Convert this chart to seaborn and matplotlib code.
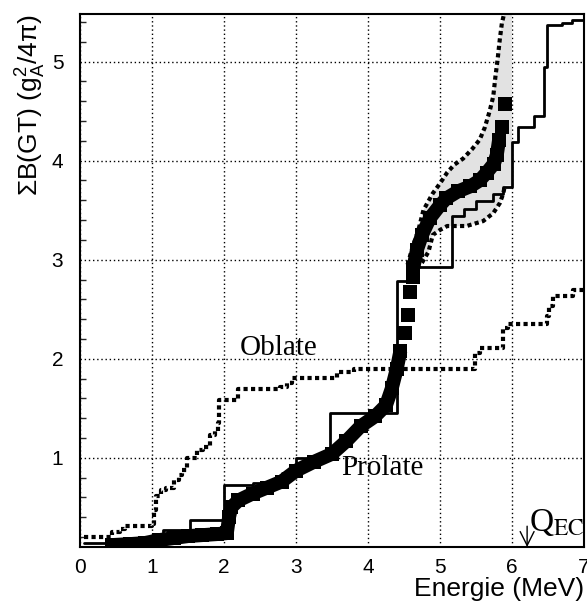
import numpy as np
import pandas as pd
import matplotlib
matplotlib.use("Agg")
import matplotlib.pyplot as plt
from matplotlib.ticker import MultipleLocator
import seaborn as sns

sns.set_theme(style="white")
plt.rcParams['font.family'] = ['Liberation Sans', 'DejaVu Sans']
plt.rcParams['mathtext.fontset'] = 'custom'
plt.rcParams['mathtext.rm'] = 'Liberation Sans'
plt.rcParams['mathtext.it'] = 'Liberation Sans'
plt.rcParams['hatch.color'] = '#7a7a7a'
plt.rcParams['hatch.linewidth'] = 1.0

# ---------------- data ----------------
# experimental cumulative B(GT) (solid staircase)
exp_x = [0.05, 0.45, 0.9, 1.15, 1.53, 2.0, 2.4, 2.8, 3.0, 3.47, 4.4, 4.55, 5.17,
         5.33, 5.5, 5.74, 5.88, 6.0, 6.08, 6.3, 6.44, 6.48, 6.7, 6.84, 7.0]
exp_y = [0.14, 0.15, 0.2, 0.27, 0.37, 0.73, 0.75, 0.85, 1.0, 1.45, 2.78, 2.93, 3.44,
         3.51, 3.59, 3.66, 3.73, 4.19, 4.34, 4.45, 4.94, 5.37, 5.39, 5.42, 5.42]

# oblate calculation (dotted staircase)
obl_x = [0.05, 0.45, 0.55, 0.62, 1.0, 1.03, 1.06, 1.13, 1.2, 1.3, 1.37, 1.41, 1.48,
         1.62, 1.71, 1.8, 1.88, 1.92, 1.93, 2.2, 2.78, 2.87, 2.95, 3.57, 3.8, 5.49,
         5.56, 5.88, 5.95, 6.48, 6.52, 6.57, 6.85, 7.0]
obl_y = [0.2, 0.25, 0.28, 0.31, 0.33, 0.47, 0.61, 0.68, 0.7, 0.78, 0.83, 0.88, 1.0,
         1.08, 1.11, 1.23, 1.27, 1.35, 1.58, 1.69, 1.72, 1.76, 1.81, 1.87, 1.9, 2.06,
         2.11, 2.31, 2.35, 2.43, 2.53, 2.63, 2.69, 2.72]

# prolate calculation (squares) - dense parts
pro1_x = [0.45, 0.7, 0.9, 1.1, 1.3, 1.5, 1.7, 1.9, 2.04, 2.07, 2.1, 2.2, 2.4, 2.6,
          2.8, 3.0, 3.25, 3.5, 3.7, 3.9, 4.1, 4.25, 4.33, 4.4, 4.45]
pro1_y = [0.12, 0.13, 0.14, 0.17, 0.19, 0.21, 0.22, 0.23, 0.24, 0.4, 0.5, 0.57, 0.64,
          0.7, 0.76, 0.87, 0.96, 1.04, 1.17, 1.32, 1.42, 1.53, 1.7, 1.9, 2.08]
pro2_x = [4.63, 4.68, 4.75, 4.86, 5.0, 5.09, 5.25, 5.42, 5.55, 5.65, 5.75, 5.79, 5.82]
pro2_y = [2.92, 3.1, 3.25, 3.42, 3.55, 3.62, 3.69, 3.74, 3.8, 3.88, 3.97, 4.06, 4.21]
# prolate - isolated squares
pro_iso_x = [4.52, 4.55, 4.58, 4.62, 5.86, 5.9]
pro_iso_y = [2.26, 2.44, 2.67, 2.83, 4.34, 4.57]

# uncertainty band limits (dotted)
up_x = [4.55, 4.62, 4.7, 4.77, 4.9, 5.0, 5.1, 5.2, 5.32, 5.45, 5.55, 5.62, 5.69,
        5.74, 5.77, 5.8, 5.83, 5.86, 5.89]
up_y = [2.95, 3.13, 3.3, 3.5, 3.67, 3.77, 3.88, 3.96, 4.02, 4.12, 4.21, 4.33, 4.5,
        4.65, 4.85, 5.02, 5.22, 5.39, 5.48]
lo_x = [4.62, 4.75, 4.84, 4.9, 5.0, 5.1, 5.37, 5.6, 5.74, 5.83, 5.88, 5.9]
lo_y = [2.85, 2.97, 3.08, 3.25, 3.3, 3.34, 3.34, 3.39, 3.47, 3.57, 3.67, 3.75]

x_ticks = [0, 1, 2, 3, 4, 5, 6, 7]
y_ticks = [1, 2, 3, 4, 5]

# ---------------- figure ----------------
fig = plt.figure(figsize=(5.87, 6.02), dpi=100)
ax = fig.add_axes([80/587, 1-547/602, 504/587, 533/602])

dot = (0, (1.0, 0.8))

# grey band
band_x = up_x + [6.0, 6.0] + lo_x[::-1]
band_y = up_y + [5.48, 3.75] + lo_y[::-1]
ax.fill(band_x, band_y, facecolor='#e2e2e2', edgecolor='none', hatch='....',
        lw=0, zorder=2)

sns.lineplot(x=up_x, y=up_y, ax=ax, sort=False, estimator=None, color='black',
             lw=3.0, linestyle=dot, zorder=3)
sns.lineplot(x=lo_x, y=lo_y, ax=ax, sort=False, estimator=None, color='black',
             lw=3.0, linestyle=dot, zorder=3)

# oblate
sns.lineplot(x=obl_x, y=obl_y, ax=ax, sort=False, estimator=None, color='black',
             lw=3.0, linestyle=dot, drawstyle='steps-post', zorder=3)

# prolate
for xs, ys in [(pro1_x, pro1_y), (pro2_x, pro2_y)]:
    sns.lineplot(x=xs, y=ys, ax=ax, sort=False, estimator=None, color='black',
                 lw=10, solid_joinstyle='round', solid_capstyle='butt', zorder=4)
    sns.scatterplot(x=xs, y=ys, ax=ax, color='black', marker='s', s=90,
                    linewidth=0, zorder=4)
sns.scatterplot(x=pro_iso_x, y=pro_iso_y, ax=ax, color='black', marker='s', s=110,
                linewidth=0, zorder=4)

# experiment
sns.lineplot(x=exp_x, y=exp_y, ax=ax, sort=False, estimator=None, color='black',
             lw=2.0, drawstyle='steps-post', zorder=5)

# axes styling
ax.set_xlim(0, 7)
ax.set_ylim(0.1, 5.48)
ax.set_xticks(x_ticks)
ax.set_yticks(y_ticks)
ax.yaxis.set_minor_locator(MultipleLocator(0.2))
ax.tick_params(axis='both', which='major', direction='in', length=7, width=1,
               labelsize=15, color='black', labelcolor='black')
ax.tick_params(axis='y', which='major', pad=12)
ax.tick_params(axis='x', which='major', pad=8)
ax.tick_params(axis='y', which='minor', direction='in', length=4, width=1,
               left=True)
ax.grid(True, which='major', color='black', lw=1.0, linestyle=(0, (1, 2)))
for s in ax.spines.values():
    s.set_color('black')
    s.set_linewidth(1.5)

ax.set_xlabel('Energie (MeV)', fontsize=19, color='black', loc='right',
              labelpad=0)
ax.set_ylabel(r'ΣB(GT) (g$_{\rm A}^{2}$/4π)', fontsize=19, color='black',
              loc='top', labelpad=3)

serif = ['Liberation Serif', 'DejaVu Serif']
ax.text(2.22, 2.04, 'Oblate', family=serif, fontsize=21, color='black',
        ha='left', va='baseline', zorder=6)
ax.text(3.63, 0.83, 'Prolate', family=serif, fontsize=21, color='black',
        ha='left', va='baseline', zorder=6)
ax.text(6.23, 0.26, r'Q$_{\rm EC}$', family=serif, fontsize=24, color='black',
        ha='left', va='baseline', math_fontfamily='stix', zorder=6)
ax.annotate('', xy=(6.21, 0.1), xytext=(6.21, 0.31),
            arrowprops=dict(arrowstyle='->,head_length=0.5,head_width=0.25',
                            lw=1.0, color='black', mutation_scale=20,
                            shrinkA=0, shrinkB=0), zorder=6)

fig.savefig('out.png', dpi=100)
